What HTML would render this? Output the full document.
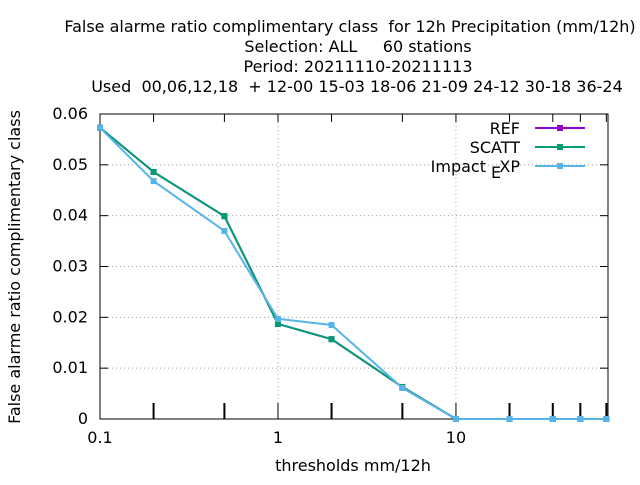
<!DOCTYPE html>
<html><head><meta charset="utf-8"><style>
body{margin:0;background:#fff;}
svg text{font-family:"DejaVu Sans",sans-serif;font-size:16px;fill:#000;white-space:pre;}
</style></head><body>
<svg id="chart" width="640" height="480" xmlns="http://www.w3.org/2000/svg">
<g>
<text x="350" y="32" text-anchor="middle" xml:space="preserve">False alarme ratio complimentary class  for 12h Precipitation (mm/12h)</text>
<text x="358" y="52" text-anchor="middle" xml:space="preserve">Selection: ALL     60 stations</text>
<text x="358" y="72" text-anchor="middle">Period: 20211110-20211113</text>
<text x="357" y="92" text-anchor="middle" xml:space="preserve">Used  00,06,12,18  + 12-00 15-03 18-06 21-09 24-12 30-18 36-24</text>
</g>
<g id="grid"></g>
<g id="axes"></g>
<rect x="100" y="114" width="508" height="305" fill="none" stroke="#000" stroke-width="1"/>
<g id="series"></g>
<text transform="translate(20,267) rotate(-90)" text-anchor="middle">False alarme ratio complimentary class</text>
<text x="353" y="471" text-anchor="middle">thresholds mm/12h</text>
<g id="legend"></g>
</svg>
<script>
const thresholds=[0.1,0.2,0.5,1,2,5,10,20,35,50,70];
const refValues=[0.0573,0.0486,0.0399,0.0187,0.0157,0.0063,0,0,0,0,0];
const scattValues=[0.0573,0.0486,0.0399,0.0187,0.0157,0.0063,0,0,0,0,0];
const impactValues=[0.0573,0.0468,0.0370,0.0197,0.0185,0.0061,0,0,0,0,0];
const yTicks=[0,0.01,0.02,0.03,0.04,0.05,0.06];
const yTickLabels=["0","0.01","0.02","0.03","0.04","0.05","0.06"];
const xLabelVals=[0.1,1,10];
const xLabels=["0.1","1","10"];
const seriesNames=["REF","SCATT","Impact_EXP"];
const NS="http://www.w3.org/2000/svg";
const X0=100,X1=608,Y0=419,Y1=114;
const lmin=Math.log10(0.1),lmax=Math.log10(71.5);
function xs(v){return X0+(Math.log10(v)-lmin)/(lmax-lmin)*(X1-X0);}
function ys(v){return Y0-v/0.06*(Y0-Y1);}
function mk(tag,at,parent){const e=document.createElementNS(NS,tag);for(const k in at)e.setAttribute(k,at[k]);parent.appendChild(e);return e;}
const grid=document.getElementById('grid'),axes=document.getElementById('axes'),ser=document.getElementById('series'),leg=document.getElementById('legend');
yTicks.forEach((t,i)=>{const y=ys(t);
 if(i>0&&i<yTicks.length-1){const g=mk('line',{x1:X0,x2:X1,y1:y,y2:y,stroke:'#a0a0a0','stroke-dasharray':'1,3'},grid);
 
 }
 mk('line',{x1:X0,x2:X0+8,y1:y,y2:y,stroke:'#000'},axes);mk('line',{x1:X1,x2:X1-8,y1:y,y2:y,stroke:'#000'},axes);
 const tx=mk('text',{x:X0-12,y:y+5,'text-anchor':'end'},axes);tx.textContent=yTickLabels[i];
 
 });
thresholds.forEach(t=>{const x=xs(t);const major=(t===1||t===10||t===0.1);
 mk('line',{x1:x,x2:x,y1:Y0,y2:Y0-16,stroke:'#000','stroke-width':major?1:2},axes);
 mk('line',{x1:x,x2:x,y1:Y1,y2:Y1+8,stroke:'#000'},axes);});
xLabelVals.forEach((v,i)=>{const x=xs(v);
 if(v!==0.1){const g=mk('line',{x1:x,x2:x,y1:Y0,y2:Y1,stroke:'#a0a0a0','stroke-dasharray':'1,3'},grid);
 
 }
 const tx=mk('text',{x:x,y:443,'text-anchor':'middle'},axes);tx.textContent=xLabels[i];
 
 });
const colors=["#9400d3","#009e73","#56b4e9"];
[refValues,scattValues,impactValues].forEach((vals,si)=>{
 const pts=thresholds.map((t,i)=>xs(t)+','+ys(vals[i])).join(' ');
 const pl=mk('polyline',{points:pts,fill:'none',stroke:colors[si],'stroke-width':2},ser);
 
 
 thresholds.forEach((t,i)=>{const c=mk('rect',{x:xs(t)-3,y:ys(vals[i])-3,width:6,height:6,fill:colors[si]},ser);
 
 });
 const ly=128+si*19;
 const ll=mk('line',{x1:535,x2:585,y1:ly,y2:ly,stroke:colors[si],'stroke-width':2},leg);
 
 
 mk('rect',{x:557,y:ly-3,width:6,height:6,fill:colors[si]},leg);
});
const l1=mk('text',{x:520,y:134,'text-anchor':'end'},leg);l1.textContent='REF';


const l2=mk('text',{x:520,y:153,'text-anchor':'end'},leg);l2.textContent='SCATT';


const l3=mk('text',{x:486,y:172,'text-anchor':'end'},leg);l3.textContent='Impact';


const l3b=mk('text',{x:491,y:178,'font-size':'13'},leg);l3b.textContent='E';


const l3c=mk('text',{x:520,y:172,'text-anchor':'end'},leg);l3c.textContent='XP';


</script>
</body></html>
